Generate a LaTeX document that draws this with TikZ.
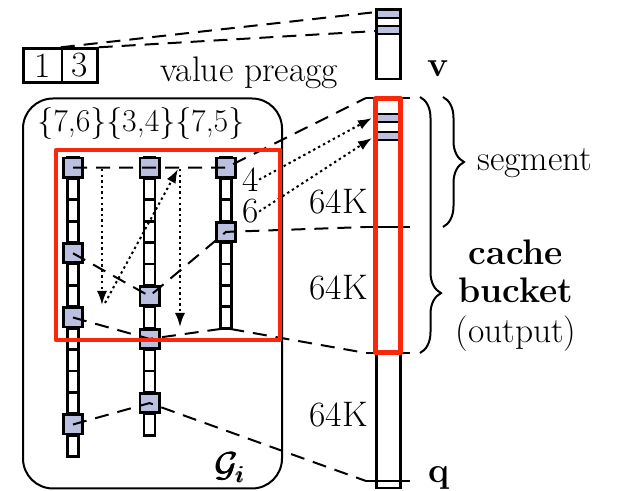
\documentclass[tikz,border=0pt]{standalone}
\usetikzlibrary{arrows.meta,decorations.pathreplacing}
\definecolor{cellfill}{RGB}{187,191,224}
\definecolor{hired}{RGB}{250,40,10}
\newcommand{\fakebold}[1]{\rlap{#1}\kern0.35pt\rlap{#1}\kern0.35pt#1}
\begin{document}
\begin{tikzpicture}[x=0.5pt,y=-0.5pt,
  font=\fontsize{17.75}{21}\selectfont,
  cellbox/.style={draw,line width=1.4pt,fill=white},
  fcell/.style={draw,line width=1.4pt,fill=cellfill,minimum size=9.6pt,inner sep=0pt},
  numbox/.style={draw,line width=1.2pt,minimum height=17pt,inner sep=0pt},
  seg/.style={line width=1pt,dash pattern=on 7pt off 4.5pt},
  scan/.style={line width=1pt,dash pattern=on 1.2pt off 1.6pt,-{Latex[length=7pt,width=5pt]}},
  tick/.style={line width=1.2pt},
  barbox/.style={draw,line width=1.4pt},
  redbox/.style={draw=hired,line width=2.25pt,line join=round},
  bracestyle/.style={line width=1pt,decorate,decoration={brace,amplitude=10.5pt}},
  lab/.style={inner sep=0pt}]
\useasboundingbox (0,0) rectangle (617,491);

% group box G_i
\draw[line width=1pt,rounded corners=15pt] (23,98.5) rectangle (282,488.5);

% columns
\foreach \i in {0,...,13} \draw[cellbox] (67.5,{157+\i*21.4}) rectangle (78.5,{157+(\i+1)*21.4});
\foreach \i in {0,...,12} \draw[cellbox] (144,{157+\i*21.4}) rectangle (155,{157+(\i+1)*21.4});
\foreach \i in {0,...,7} \draw[cellbox] (220.5,{157+\i*21.4}) rectangle (231.5,{157+(\i+1)*21.4});

\node[fcell] (a0) at (73,167.7) {};
\node[fcell] (a4) at (73,253.3) {};
\node[fcell] (a7) at (73,317.5) {};
\node[fcell] (a12) at (73,424.5) {};
\node[fcell] (b0) at (149.5,167.7) {};
\node[fcell] (b6) at (149.5,296.1) {};
\node[fcell] (b8) at (149.5,338.9) {};
\node[fcell] (b11) at (149.5,403.1) {};
\node[fcell] (c0) at (226,167.7) {};
\node[fcell] (c3) at (226,231.9) {};
\coordinate (cbot) at (226,328.2);

% preagg boxes
\node[numbox,minimum width=19.25pt] (n1) at (42.75,65.5) {1};
\node[numbox,minimum width=17.75pt] (n3) at (79.75,65.5) {3};

% bar v
\draw[barbox] (376.5,9.5) rectangle (400.5,79);
\draw[barbox,fill=cellfill] (376.5,9.5) rectangle (400.5,18);
\draw[barbox,fill=cellfill] (376.5,26) rectangle (400.5,34);
\coordinate (v1) at (376.5,12);
\coordinate (v3) at (376.5,31);

% bar q
\draw[barbox] (376.5,98.5) rectangle (400.5,488);
\draw[barbox,fill=cellfill] (376.5,114) rectangle (400.5,122);
\draw[barbox,fill=cellfill] (376.5,132) rectangle (400.5,140);
\coordinate (qt0) at (366,98);
\coordinate (qt1) at (366,227);
\coordinate (qt2) at (366,353);
\coordinate (qt3) at (366,481);
\coordinate (qe0) at (410,98);
\coordinate (qe1) at (410,227);
\coordinate (qe2) at (410,353);
\coordinate (qe3) at (410,481);
\draw[tick] (qt0) -- (qe0);
\draw[tick] (qt1) -- (qe1);
\draw[tick] (qt2) -- (qe2);
\draw[tick] (qt3) -- (qe3);
\coordinate (qc1) at (372,118);
\coordinate (qc2) at (372,138);

% dashed mapping lines
\draw[seg] (n3.north west) -- (v1);
\draw[seg] (n3.north east) -- (v3);
\draw[seg] (a0.center) -- (b0.center) -- (c0.center) -- (qt0);
\draw[seg] (a4.center) -- (b6.center) -- (c3.center) -- (qt1);
\draw[seg] (a7.center) -- (b8.center) -- (cbot) -- (qt2);
\draw[seg] (a12.center) -- (b11.center) -- (qt3);

% labels
\node[lab,anchor=base west] (vp) at (160,82) {value preagg};
\node[lab,anchor=base west] (sets) at (37,132) {\fontsize{15.9}{19}\selectfont\{7,6\}\{3,4\}\{7,5\}};
\node[lab,anchor=base east] (k1) at (368,214) {64K};
\node[lab,anchor=base east] (k2) at (368,300) {64K};
\node[lab,anchor=base east] (k3) at (368,427) {64K};
\node[lab,anchor=base west] (l4) at (242,191.5) {4};
\node[lab,anchor=base west] (l6) at (242,223) {6};
\node[lab,anchor=base west] (vl) at (427,77) {\textbf{v}};
\node[lab,anchor=base west] (ql) at (428,483) {\textbf{q}};
\node[lab,anchor=base west] (sg) at (477,171) {segment};
\node[lab,anchor=base] (ca) at (516,265) {\textbf{cache}};
\node[lab,anchor=base] (bu) at (516,303) {\textbf{bucket}};
\node[lab,anchor=base] (ou) at (516,343) {(output)};
\node[lab,anchor=base west] (gi) at (214,477) {\fakebold{$\mathcal{G}_i$}};

% dotted scan arrows
\coordinate (s1a) at (102,169);
\coordinate (s1b) at (102,305);
\coordinate (s2a) at (105,303);
\coordinate (s2b) at (178,169);
\coordinate (s3a) at (180,169);
\coordinate (s3b) at (180,327);
\draw[scan] (s1a) -- (s1b);
\draw[scan] (s2a) -- (s2b);
\draw[scan] (s3a) -- (s3b);
\draw[scan] (l4.east) -- (qc1);
\draw[scan] (l6.east) -- (qc2);

% red highlights
\draw[redbox] (56,150) rectangle (280,340);
\draw[redbox] (375.5,98.5) rectangle (400.5,352.5);

% braces
\coordinate (br1a) at (443,97);
\coordinate (br1b) at (443,227);
\coordinate (br2a) at (420,97);
\coordinate (br2b) at (420,353);
\draw[bracestyle] (br1a) -- (br1b);
\draw[bracestyle,decoration={brace,amplitude=10.5pt,aspect=0.766}] (br2a) -- (br2b);
\end{tikzpicture}
\end{document}
